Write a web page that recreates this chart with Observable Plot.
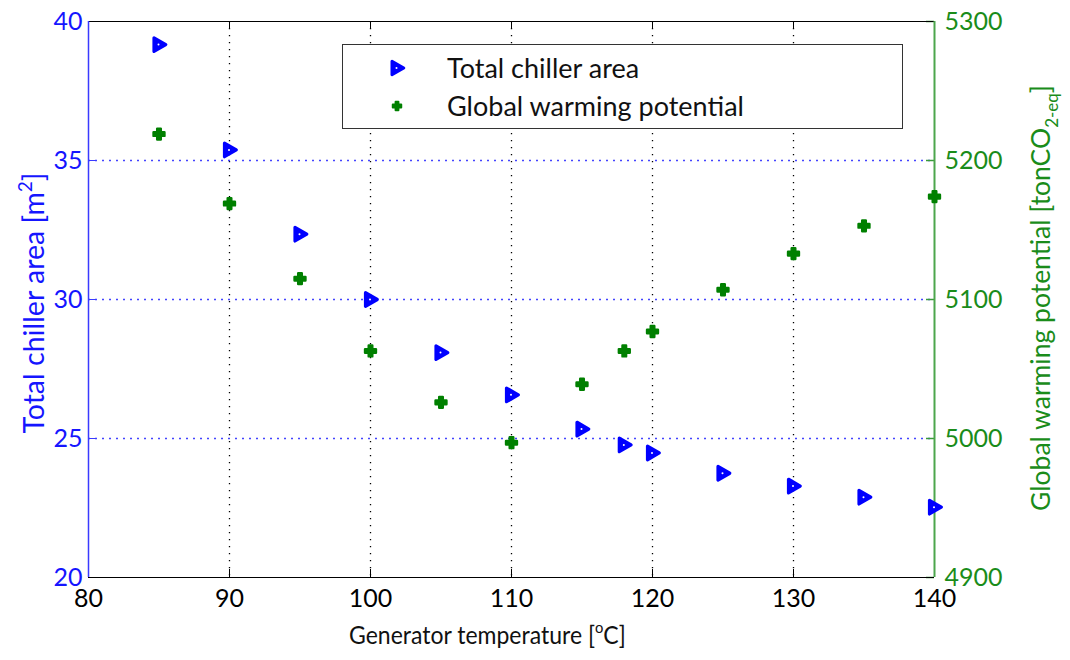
<!DOCTYPE html>
<html><head><meta charset="utf-8">
<script src="https://cdn.jsdelivr.net/npm/d3@7"></script>
<script src="https://cdn.jsdelivr.net/npm/@observablehq/plot@0.6"></script>
<style>
body{margin:0;background:#fff;font-family:Lato,"Open Sans",sans-serif;}
#wrap{position:relative;width:1070px;height:660px;}
#legend{position:absolute;left:342px;top:44px;width:559px;height:83px;border:1.5px solid #333;background:#fff;font-size:27px;color:#111;}
#legend svg{position:absolute;left:42px;top:0;}
#legend span{position:absolute;left:104px;white-space:nowrap;line-height:30px;}
</style>
</head><body><div id="wrap"></div>
<script>
const temps = [85, 90, 95, 100, 105, 110, 115, 118, 120, 125, 130, 135, 140];
const chillerArea = [39.17, 35.38, 32.35, 30.0, 28.09, 26.57, 25.34, 24.77, 24.48, 23.75, 23.29, 22.89, 22.53];
const gwp = [5219, 5169, 5115, 5063, 5026, 4997, 5039, 5063, 5077, 5107, 5133, 5153, 5174];
const xTicks = [80, 90, 100, 110, 120, 130, 140];
const leftTicks = [20, 25, 30, 35, 40];
const rightTicks = [4900, 5000, 5100, 5200, 5300];
const seriesNames = ["Total chiller area", "Global warming potential"];

const BLUE = "#0000ff", GREEN = "#008000";
const toLeft = v => 20 + (v - 4900) / 20;
const fromLeft = d => String(Math.round(4900 + (d - 20) * 20));

const rows = temps.map((t, i) => ({t, area: chillerArea[i], gwp: gwp[i]}));

const tri = {draw(ctx) { ctx.moveTo(-5, -6.8); ctx.lineTo(6.8, 0); ctx.lineTo(-5, 6.8); ctx.closePath(); }};

const W = 1070, H = 660, mL = 88, mR = 136, mT = 21, mB = 83;
const pw = W - mL - mR, ph = H - mT - mB;

const chart = Plot.plot({
  width: W, height: H, marginLeft: mL, marginRight: mR, marginTop: mT, marginBottom: mB,
  style: {fontFamily: "Lato, 'Open Sans', sans-serif", fontSize: "25px", background: "white"},
  x: {domain: [80, 140]},
  y: {domain: [20, 40]},
  marks: [
    Plot.gridX(xTicks.slice(1, -1), {stroke: "#000", strokeOpacity: 1, strokeWidth: 1.3, strokeDasharray: "1.3,5.7"}),
    Plot.gridY(leftTicks.slice(1, -1), {stroke: "#3030ff", strokeOpacity: 0.9, strokeWidth: 1.3, strokeDasharray: "2,5"}),
    Plot.tickX(xTicks, {x: d => d, stroke: "#000", insetTop: ph - 8}),
    Plot.tickX(xTicks, {x: d => d, stroke: "#000", insetBottom: ph - 8}),
    Plot.tickY(leftTicks, {y: d => d, stroke: "#3a3aff", insetRight: pw - 8}),
    Plot.tickY(rightTicks.map(toLeft), {y: d => d, stroke: "#3a9a3a", strokeWidth: 1.5, insetLeft: pw - 8}),
    Plot.ruleY([40], {stroke: "#000", strokeWidth: 1.2}),
    Plot.ruleY([20], {stroke: "#000", strokeWidth: 1.2}),
    Plot.ruleX([80], {stroke: "#3a3aff", strokeWidth: 1.5}),
    Plot.ruleX([140], {stroke: "#4ca64c", strokeWidth: 2}),
    Plot.axisX({ticks: xTicks, tickSize: 0, tickPadding: 12, label: null, color: "#000", tickFormat: d => String(d)}),
    Plot.axisY({anchor: "left", ticks: leftTicks, tickSize: 0, tickPadding: 6, label: null, color: "#1515ff", tickFormat: d => String(d)}),
    Plot.axisY({anchor: "right", ticks: rightTicks.map(toLeft), tickSize: 0, tickPadding: 10, label: null, color: "#1a8c1a", tickFormat: fromLeft}),
    Plot.dot(rows, {x: "t", y: d => toLeft(d.gwp), symbol: "cross", r: 4.6, fill: GREEN, stroke: GREEN, strokeWidth: 2.4, strokeLinejoin: "round"}),
    Plot.dot(rows, {x: "t", y: "area", symbol: tri, r: 8, fill: BLUE, stroke: BLUE, strokeWidth: 3.2, strokeLinejoin: "round"}),
    Plot.dot(rows, {x: "t", y: "area", r: 1, fill: "white", stroke: "none", dx: -0.5})
  ]
});

const wrap = document.getElementById("wrap");
wrap.appendChild(chart);

const svg = d3.select(chart);
// x label
const xl = svg.append("text").attr("transform", "translate(349,644) scale(0.92,1)").attr("fill", "#111")
  .style("font-size", "25px").attr("text-anchor", "start");
xl.append("tspan").text("Generator temperature [");
xl.append("tspan").text("o").attr("dy", -11).style("font-size", "16px");
xl.append("tspan").text("C]").attr("dy", 11);
// left label
const yl = svg.append("text").attr("transform", "translate(44,303) rotate(-90)").attr("text-anchor", "middle")
  .attr("fill", "#1515ff").style("font-size", "28.5px");
yl.append("tspan").text("Total chiller area [m");
yl.append("tspan").text("2").attr("dy", -12).style("font-size", "19px");
yl.append("tspan").text("]").attr("dy", 12);
// right label
const yr = svg.append("text").attr("transform", "translate(1050,298) rotate(-90)").attr("text-anchor", "middle")
  .attr("fill", "#1a8c1a").style("font-size", "26.5px");
yr.append("tspan").text("Global warming potential [tonCO");
yr.append("tspan").text("2-eq").attr("dy", 8).style("font-size", "17px");
yr.append("tspan").text("]").attr("dy", -8);

// legend
const legend = document.createElement("div");
legend.id = "legend";
legend.innerHTML = `
  <div style="position:absolute;left:0;top:8px;width:100%;height:30px;">
    <svg width="24" height="30" viewBox="-12 -15 24 30"><path d="M-5,-6.8L6.8,0L-5,6.8Z" fill="${BLUE}" stroke="${BLUE}" stroke-width="3" stroke-linejoin="round"/><circle r="1" cx="-0.5" fill="white"/></svg>
    <span style="top:0px">${seriesNames[0]}</span>
  </div>
  <div style="position:absolute;left:0;top:46px;width:100%;height:30px;">
    <svg width="24" height="30" viewBox="-12 -15 24 30"><path d="${d3.symbol(d3.symbolCross, 40)()}" fill="${GREEN}" stroke="${GREEN}" stroke-width="2" stroke-linejoin="round"/></svg>
    <span style="top:0px">${seriesNames[1]}</span>
  </div>`;
wrap.appendChild(legend);
</script>
</body></html>
